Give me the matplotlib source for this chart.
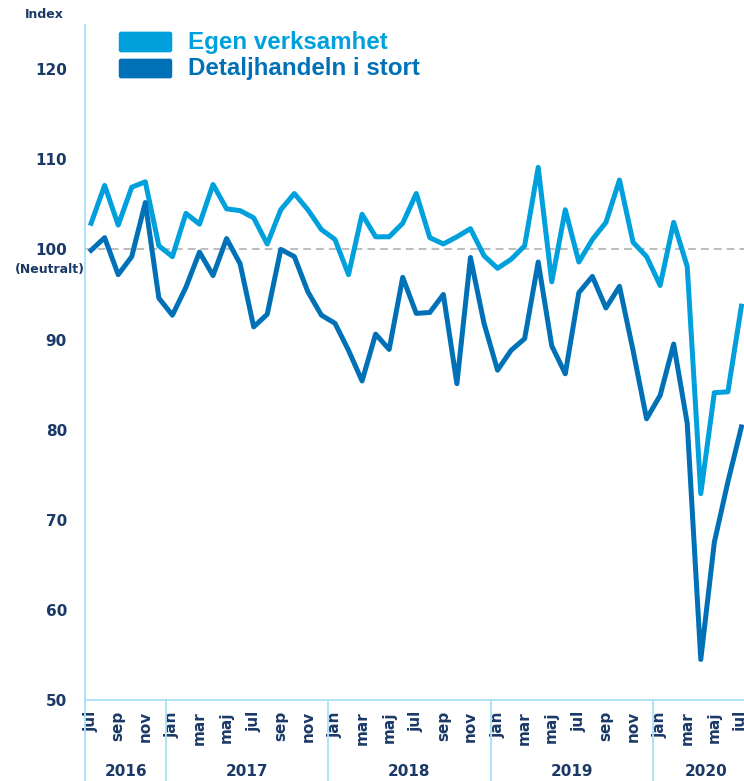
import matplotlib
matplotlib.use("Agg")
import matplotlib.pyplot as plt
from matplotlib.patches import FancyBboxPatch
import matplotlib.transforms as mtransforms

# monthly index, jul 2016 .. jul 2020
egen = [102.9, 107.1, 102.7, 106.9, 107.5, 100.4, 99.2, 104.0, 102.8, 107.2,
        104.5, 104.3, 103.5, 100.6, 104.4, 106.2, 104.4, 102.2, 101.1, 97.2,
        103.9, 101.4, 101.4, 102.9, 106.2, 101.3, 100.6, 101.4, 102.3, 99.3,
        97.9, 98.9, 100.4, 109.1, 96.4, 104.4, 98.6, 101.1, 103.0, 107.7,
        100.8, 99.2, 96.0, 103.0, 98.1, 72.9, 84.1, 84.2, 93.7]
detalj = [99.9, 101.3, 97.2, 99.2, 105.2, 94.6, 92.7, 95.8, 99.7, 97.1,
          101.2, 98.4, 91.4, 92.8, 100.0, 99.2, 95.3, 92.7, 91.8, 88.8,
          85.4, 90.6, 88.9, 96.9, 92.9, 93.0, 95.0, 85.1, 99.1, 91.8,
          86.6, 88.8, 90.1, 98.6, 89.3, 86.2, 95.2, 97.0, 93.5, 95.9,
          88.8, 81.2, 83.8, 89.5, 80.7, 54.5, 67.5, 74.2, 80.3]
month_names = ["jan", "feb", "mar", "apr", "maj", "jun",
               "jul", "aug", "sep", "okt", "nov", "dec"]
start_month = 6  # jul
years = ["2016", "2017", "2018", "2019", "2020"]
yticks = [50, 60, 70, 80, 90, 100, 110, 120]
series_names = ["Egen verksamhet", "Detaljhandeln i stort"]

LIGHT = "#00A0DC"
DARK = "#0071B6"
NAVY = "#1B3966"
AXCOL = "#A8E0F8"

W, H = 744, 781
fig = plt.figure(figsize=(W / 100, H / 100), dpi=100)
ax = fig.add_axes([85 / W, 1 - 700 / H, (W - 85) / W, 675 / H])

x = list(range(len(egen)))
ax.axhline(100, color="#BDBDBD", lw=1.4, ls=(0, (4, 2.6)), zorder=1)
ax.plot(x, egen, color=LIGHT, lw=3.6, solid_joinstyle="round", zorder=3)
ax.plot(x, detalj, color=DARK, lw=3.6, solid_joinstyle="round", zorder=4)

ax.set_xlim(-0.45, 48.19)
ax.set_ylim(50, 124.9)

for s in ["top", "right"]:
    ax.spines[s].set_visible(False)
for s in ["left", "bottom"]:
    ax.spines[s].set_color(AXCOL)
    ax.spines[s].set_linewidth(1.3)

ax.set_yticks(yticks)
ax.set_yticklabels([str(t) for t in yticks], fontsize=11, fontweight="bold",
                   color=NAVY, family="DejaVu Sans")
ax.tick_params(axis="y", length=0, pad=13)

ticks = x[::2]
labels = [month_names[(start_month + i) % 12] for i in ticks]
ax.set_xticks(ticks)
ax.set_xticklabels(labels, rotation=90, fontsize=11, fontweight="bold",
                   color=NAVY, family="DejaVu Sans", va="top", ha="center")
ax.tick_params(axis="x", length=0, pad=8)

# year separators and labels below the axis
trans = mtransforms.blended_transform_factory(ax.transData, ax.transAxes)
below = -81 / 675
for i in range(1, len(years)):
    xs = i * 12 - start_month - 0.5
    ax.plot([xs, xs], [0, below], transform=trans, color=AXCOL, lw=1.3,
            clip_on=False)
ax.plot([-0.45, -0.45], [0, below], transform=trans, color=AXCOL, lw=1.3,
        clip_on=False)
year_pos = [2.55, 11.5, 23.5, 35.5, 45.4]
for yp, yr in zip(year_pos, years):
    ax.text(yp, -71 / 675, yr, transform=trans, ha="center", va="center",
            fontsize=11, fontweight="bold", color=NAVY, family="DejaVu Sans")

fig.text(44 / W, 1 - 14 / H, "Index", ha="center", va="center", fontsize=9,
         fontweight="bold", color=NAVY, family="DejaVu Sans")
fig.text(50 / W, 1 - 270 / H, "(Neutralt)", ha="center", va="center",
         fontsize=9, fontweight="bold", color=NAVY, family="DejaVu Sans")

# legend
for (y0, y1, base), col, name in zip([(33, 51, 49.5), (60, 77, 75.5)],
                                     [LIGHT, DARK], series_names):
    fig.patches.append(FancyBboxPatch(
        (121 / W, 1 - (y1 - 1) / H), 49 / W, (y1 - y0 - 2) / H,
        boxstyle="round,pad=0.003", transform=fig.transFigure,
        facecolor=col, edgecolor=col, lw=0))
    fig.text(188 / W, 1 - base / H, name, ha="left", va="baseline",
             fontsize=17.4, fontweight="bold", color=col,
             family="Liberation Sans")

fig.savefig("out.png", dpi=100)
